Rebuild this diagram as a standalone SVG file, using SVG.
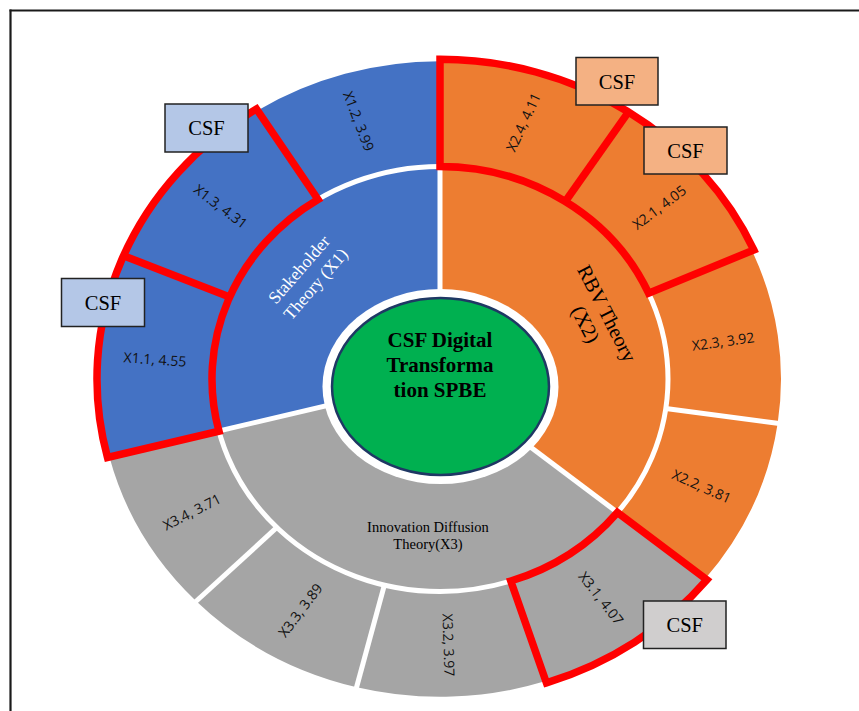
<svg xmlns="http://www.w3.org/2000/svg" width="859" height="711" viewBox="0 0 859 711">
<style>
.blue{fill:#4472C4}
.orange{fill:#ED7D31}
.gray{fill:#A5A5A5}
.sep{stroke:#FFFFFF;stroke-width:5;fill:none}
.red{stroke:#FF0000;stroke-width:7.5;fill:none;stroke-linejoin:miter}
.lbl{font-family:"Open Sans","Liberation Sans",sans-serif;font-size:14px;fill:#111;text-anchor:middle;dominant-baseline:central}
.csfbox{stroke:#222;stroke-width:1.5}
.csf{font-family:"Liberation Serif","Times New Roman",serif;font-size:20.5px;fill:#000;text-anchor:middle}
.theory{font-family:"Liberation Serif","Times New Roman",serif;text-anchor:middle}
</style>
<rect width="859" height="711" fill="#FFFFFF"/>
<g id="frame" stroke="#1a1a1a" stroke-width="2.2">
<line x1="9.5" y1="10.5" x2="859" y2="10.5"/>
<line x1="10.5" y1="9.5" x2="10.5" y2="711"/>
</g>
<g id="inner-ring">
<g id="node-X2"><path class="orange" d="M440 379 L440 166.5 A228 212.5 0 0 1 617.43 512.45 Z"/></g>
<g id="node-X3"><path class="gray" d="M440 379 L617.43 512.45 A228 212.5 0 0 1 218.98 431.19 Z"/></g>
<g id="node-X1"><path class="blue" d="M440 379 L218.98 431.19 A228 212.5 0 0 1 440 166.5 Z"/></g>
</g>
<g id="outer-ring">
<g id="node-X2-4"><path class="orange" d="M440 61.19 A341 317.81 0 0 1 627.41 113.50 L565.31 201.48 A228 212.5 0 0 0 440 166.5 Z"/></g>
<g id="node-X2-1"><path class="orange" d="M627.41 113.50 A341 317.81 0 0 1 751.98 250.70 L648.60 293.21 A228 212.5 0 0 0 565.31 201.48 Z"/></g>
<g id="node-X2-3"><path class="orange" d="M751.98 250.70 A341 317.81 0 0 1 777.69 423.18 L665.79 408.54 A228 212.5 0 0 0 648.60 293.21 Z"/></g>
<g id="node-X2-2"><path class="orange" d="M777.69 423.18 A341 317.81 0 0 1 705.37 578.58 L617.43 512.45 A228 212.5 0 0 0 665.79 408.54 Z"/></g>
<g id="node-X3-1"><path class="gray" d="M705.37 578.58 A341 317.81 0 0 1 545.85 681.11 L510.77 581.00 A228 212.5 0 0 0 617.43 512.45 Z"/></g>
<g id="node-X3-2"><path class="gray" d="M545.85 681.11 A341 317.81 0 0 1 356.80 687.21 L384.37 585.08 A228 212.5 0 0 0 510.77 581.00 Z"/></g>
<g id="node-X3-3"><path class="gray" d="M356.80 687.21 A341 317.81 0 0 1 196.01 601.02 L276.87 527.45 A228 212.5 0 0 0 384.37 585.08 Z"/></g>
<g id="node-X3-4"><path class="gray" d="M196.01 601.02 A341 317.81 0 0 1 109.43 457.05 L218.98 431.19 A228 212.5 0 0 0 276.87 527.45 Z"/></g>
<g id="node-X1-1"><path class="blue" d="M109.43 457.05 A341 317.81 0 0 1 125.39 256.42 L229.65 297.04 A228 212.5 0 0 0 218.98 431.19 Z"/></g>
<g id="node-X1-3"><path class="blue" d="M125.39 256.42 A341 317.81 0 0 1 257.56 110.48 L318.02 199.46 A228 212.5 0 0 0 229.65 297.04 Z"/></g>
<g id="node-X1-2"><path class="blue" d="M257.56 110.48 A341 317.81 0 0 1 440 61.19 L440 166.5 A228 212.5 0 0 0 318.02 199.46 Z"/></g>
</g>
<g id="separators" class="sep">
<ellipse cx="440" cy="379" rx="228" ry="212.5"/>
<line x1="440" y1="379" x2="440" y2="55"/>
<line x1="440" y1="379" x2="710" y2="582"/>
<line x1="440" y1="379" x2="104" y2="458"/>
<line x1="565.31" y1="201.48" x2="630" y2="110"/>
<line x1="648.60" y1="293.21" x2="757" y2="249"/>
<line x1="665.79" y1="408.54" x2="783" y2="424"/>
<line x1="510.77" y1="581.00" x2="548" y2="687"/>
<line x1="384.37" y1="585.08" x2="355" y2="693"/>
<line x1="276.87" y1="527.45" x2="192" y2="605"/>
<line x1="229.65" y1="297.04" x2="120" y2="254"/>
<line x1="318.02" y1="199.46" x2="254" y2="106"/>
</g>
<g id="labels">
<text class="lbl" transform="translate(523,122) rotate(-65)">X2.4, 4.11</text>
<text class="lbl" transform="translate(659,207) rotate(-37)">X2.1, 4.05</text>
<text class="lbl" transform="translate(723,341) rotate(-8)">X2.3, 3.92</text>
<text class="lbl" transform="translate(702,486) rotate(24)">X2.2, 3.81</text>
<text class="lbl" transform="translate(601.5,598) rotate(52)">X3.1, 4.07</text>
<text class="lbl" transform="translate(449,645) rotate(88)">X3.2, 3.97</text>
<text class="lbl" transform="translate(300,610) rotate(-53)">X3.3, 3.89</text>
<text class="lbl" transform="translate(191.7,511.5) rotate(-27)">X3.4, 3.71</text>
<text class="lbl" transform="translate(155,359) rotate(4)">X1.1, 4.55</text>
<text class="lbl" transform="translate(221,206) rotate(37)">X1.3, 4.31</text>
<text class="lbl" transform="translate(359,121) rotate(69)">X1.2, 3.99</text>
<text class="theory" font-size="17.5" fill="#FFFFFF" transform="translate(307.5,277) rotate(-49)"><tspan x="0" y="-5.4">Stakeholder</tspan><tspan x="0" y="16.6">Theory (X1)</tspan></text>
<text class="theory" font-size="20.5" fill="#000" transform="translate(596,319) rotate(63)"><tspan x="0" y="-5.4">RBV Theory</tspan><tspan x="0" y="18.6">(X2)</tspan></text>
<text class="theory" font-size="14.5" fill="#000"><tspan x="428" y="531.5">Innovation Diffusion</tspan><tspan x="428" y="548.5">Theory(X3)</tspan></text>
</g>
<g id="highlights" class="red">
<path d="M107.50 457.51 A343 319.68 0 0 1 256.49 108.90 L318.02 199.46 A228 212.5 0 0 0 218.98 431.19 Z"/>
<line x1="123.55" y1="255.70" x2="229.65" y2="297.04"/>
<path d="M440 59.32 A343 319.68 0 0 1 753.81 249.94 L648.60 293.21 A228 212.5 0 0 0 440 166.5 Z"/>
<line x1="628.51" y1="111.94" x2="565.31" y2="201.48"/>
<path d="M617.43 512.45 L706.92 579.76 A343 319.68 0 0 1 546.47 682.89 L510.77 581.00 A228 212.5 0 0 0 617.43 512.45 Z"/>
</g>
<g id="node-center">
<ellipse cx="440.5" cy="386.5" rx="118" ry="97.5" fill="#FFFFFF"/>
<ellipse cx="440.5" cy="386.5" rx="108.5" ry="88.5" fill="#00B050" stroke="#1F3864" stroke-width="2.5"/>
<text class="theory" font-size="21" font-weight="bold" fill="#000"><tspan x="440" y="346.5">CSF Digital</tspan><tspan x="440" y="371.5">Transforma</tspan><tspan x="440" y="396.5">tion SPBE</tspan></text>
</g>
<g id="node-csf-1"><rect class="csfbox" x="165" y="104" width="83" height="48" fill="#B4C7E7"/><text class="csf" x="206.5" y="135">CSF</text></g>
<g id="node-csf-2"><rect class="csfbox" x="61.5" y="278.5" width="83" height="48" fill="#B4C7E7"/><text class="csf" x="103" y="310">CSF</text></g>
<g id="node-csf-3"><rect class="csfbox" x="576" y="57.5" width="82" height="47.5" fill="#F4B183"/><text class="csf" x="617" y="88.5">CSF</text></g>
<g id="node-csf-4"><rect class="csfbox" x="644" y="127" width="83" height="47" fill="#F4B183"/><text class="csf" x="685.5" y="158">CSF</text></g>
<g id="node-csf-5"><rect class="csfbox" x="643.5" y="601" width="82.5" height="47.5" fill="#D0CECE"/><text class="csf" x="684.7" y="632">CSF</text></g>
<g id="connectors"/>
</svg>
